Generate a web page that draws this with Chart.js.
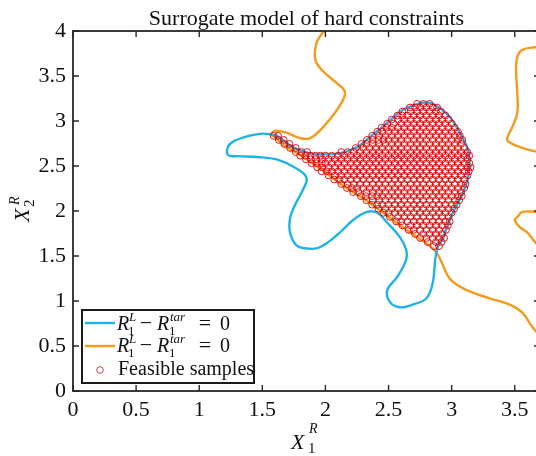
<!DOCTYPE html>
<html>
<head>
<meta charset="utf-8">
<script src="https://cdn.jsdelivr.net/npm/chart.js@4.4.0/dist/chart.umd.min.js"></script>
<style>
html, body { margin: 0; padding: 0; background: #fff; overflow: hidden; }
#wrap { width: 548px; height: 456px; }
</style>
</head>
<body>
<div id="wrap"><canvas id="grafico" width="548" height="456"></canvas></div>
<script>
var titulo = 'Surrogate model of hard constraints';
var xTicks = [0, 0.5, 1, 1.5, 2, 2.5, 3, 3.5];
var yTicks = [0, 0.5, 1, 1.5, 2, 2.5, 3, 3.5, 4];

// blue contour (closed loop)
var blueX = [2.75, 2.61, 2.49, 2.35, 2.25, 2.11, 1.98, 1.88, 1.74, 1.66, 1.60, 1.50, 1.38, 1.28, 1.23, 1.23, 1.31, 1.46,
    1.62, 1.76, 1.85, 1.82, 1.76, 1.72, 1.72, 1.77, 1.88, 1.96, 2.09, 2.22, 2.33, 2.41, 2.49, 2.59, 2.64, 2.64, 2.57,
    2.49, 2.51, 2.59, 2.69, 2.80, 2.85, 2.87, 2.89, 2.93, 2.96, 3.02, 3.09, 3.13, 3.14, 3.13, 3.06, 2.99, 2.91, 2.83, 2.75];
var blueY = [3.20, 3.12, 2.98, 2.82, 2.71, 2.64, 2.63, 2.64, 2.71, 2.79, 2.84, 2.86, 2.83, 2.78, 2.72, 2.62, 2.61, 2.60,
    2.57, 2.48, 2.37, 2.23, 2.07, 1.92, 1.76, 1.62, 1.58, 1.60, 1.73, 1.90, 1.99, 1.98, 1.87, 1.71, 1.57, 1.46, 1.27,
    1.12, 0.99, 0.93, 0.96, 1.03, 1.20, 1.46, 1.60, 1.69, 1.81, 2.01, 2.20, 2.37, 2.53, 2.68, 2.88, 3.04, 3.14, 3.20, 3.20];

// orange contours
var orangeAX = [2.00, 1.93, 1.92, 1.97, 2.09, 2.15, 2.15, 2.09, 1.98, 1.88, 1.80, 1.69, 1.60, 1.57, 1.60, 1.68, 1.78,
    1.97, 2.13, 2.35, 2.61, 2.80, 2.88, 2.93, 2.99, 3.12, 3.30, 3.46, 3.56, 3.64, 3.72];
var orangeAY = [4.02, 3.87, 3.68, 3.57, 3.42, 3.34, 3.27, 3.12, 2.93, 2.81, 2.81, 2.87, 2.89, 2.85, 2.82, 2.72, 2.64,
    2.46, 2.29, 2.09, 1.82, 1.64, 1.54, 1.40, 1.24, 1.12, 1.03, 0.96, 0.87, 0.71, 0.58];
var orangeBX = [3.74, 3.66, 3.56, 3.52, 3.51, 3.52, 3.52, 3.48, 3.44, 3.45, 3.54, 3.67, 3.74];
var orangeBY = [3.83, 3.82, 3.79, 3.71, 3.57, 3.31, 3.09, 2.93, 2.81, 2.77, 2.71, 2.66, 2.64];
var orangeCX = [3.74, 3.67, 3.56, 3.52, 3.50, 3.54, 3.60, 3.67, 3.74];
var orangeCY = [1.99, 1.99, 1.99, 1.93, 1.90, 1.82, 1.76, 1.64, 1.56];

// feasible samples, read row by row
var sampleY = [1.61, 1.655, 1.70, 1.745, 1.79, 1.84, 1.885, 1.935, 1.98, 2.025, 2.07, 2.12, 2.165, 2.21, 2.255, 2.30,
    2.35, 2.395, 2.44, 2.485, 2.53, 2.575, 2.615, 2.655, 2.70, 2.745, 2.79, 2.835, 2.88, 2.925, 2.97, 3.015, 3.06,
    3.105, 3.15, 3.19];
var sampleX = [
    [2.86, 2.90],
    [2.81, 2.875, 2.92],
    [2.75, 2.80, 2.85, 2.90, 2.94],
    [2.71, 2.775, 2.825, 2.875, 2.925],
    [2.66, 2.70, 2.75, 2.80, 2.85, 2.90, 2.955],
    [2.61, 2.675, 2.725, 2.775, 2.825, 2.875, 2.925, 2.97],
    [2.56, 2.60, 2.65, 2.70, 2.75, 2.80, 2.85, 2.90, 2.95, 2.985],
    [2.51, 2.575, 2.625, 2.675, 2.725, 2.775, 2.825, 2.875, 2.925, 2.975],
    [2.46, 2.50, 2.55, 2.60, 2.65, 2.70, 2.75, 2.80, 2.85, 2.90, 2.95, 3.00],
    [2.42, 2.475, 2.525, 2.575, 2.625, 2.675, 2.725, 2.775, 2.825, 2.875, 2.925, 2.975, 3.02],
    [2.37, 2.41, 2.45, 2.50, 2.55, 2.60, 2.65, 2.70, 2.75, 2.80, 2.85, 2.90, 2.95, 3.00, 3.04],
    [2.325, 2.375, 2.425, 2.475, 2.525, 2.575, 2.625, 2.675, 2.725, 2.775, 2.825, 2.875, 2.925, 2.975, 3.025, 3.06],
    [2.28, 2.32, 2.37, 2.41, 2.45, 2.50, 2.55, 2.60, 2.65, 2.70, 2.75, 2.80, 2.85, 2.90, 2.95, 3.00, 3.05, 3.08],
    [2.22, 2.26, 2.325, 2.375, 2.425, 2.475, 2.525, 2.575, 2.625, 2.675, 2.725, 2.775, 2.825, 2.875, 2.925, 2.975, 3.025, 3.075],
    [2.17, 2.21, 2.25, 2.30, 2.35, 2.40, 2.45, 2.50, 2.55, 2.60, 2.65, 2.70, 2.75, 2.80, 2.85, 2.90, 2.95, 3.00, 3.05, 3.10],
    [2.125, 2.175, 2.225, 2.275, 2.325, 2.375, 2.425, 2.475, 2.525, 2.575, 2.625, 2.675, 2.725, 2.775, 2.825, 2.875, 2.925, 2.975, 3.025, 3.075, 3.11],
    [2.07, 2.11, 2.15, 2.20, 2.25, 2.30, 2.35, 2.40, 2.45, 2.50, 2.55, 2.60, 2.65, 2.70, 2.75, 2.80, 2.85, 2.90, 2.95, 3.00, 3.05, 3.10],
    [2.025, 2.075, 2.125, 2.175, 2.225, 2.275, 2.325, 2.375, 2.425, 2.475, 2.525, 2.575, 2.625, 2.675, 2.725, 2.775, 2.825, 2.875, 2.925, 2.975, 3.025, 3.075, 3.125],
    [1.97, 2.01, 2.05, 2.10, 2.15, 2.20, 2.25, 2.30, 2.35, 2.40, 2.45, 2.50, 2.55, 2.60, 2.65, 2.70, 2.75, 2.80, 2.85, 2.90, 2.95, 3.00, 3.05, 3.10, 3.135],
    [1.935, 1.975, 2.025, 2.075, 2.125, 2.175, 2.225, 2.275, 2.325, 2.375, 2.425, 2.475, 2.525, 2.575, 2.625, 2.675, 2.725, 2.775, 2.825, 2.875, 2.925, 2.975, 3.025, 3.075, 3.125, 3.15],
    [1.89, 1.93, 1.97, 2.00, 2.05, 2.10, 2.15, 2.20, 2.25, 2.30, 2.35, 2.40, 2.45, 2.50, 2.55, 2.60, 2.65, 2.70, 2.75, 2.80, 2.85, 2.90, 2.95, 3.00, 3.05, 3.10, 3.14],
    [1.845, 1.885, 1.925, 1.975, 2.025, 2.075, 2.125, 2.175, 2.225, 2.275, 2.325, 2.375, 2.425, 2.475, 2.525, 2.575, 2.625, 2.675, 2.725, 2.775, 2.825, 2.875, 2.925, 2.975, 3.025, 3.075, 3.125],
    [1.80, 1.84, 1.88, 1.92, 1.96, 2.00, 2.05, 2.10, 2.15, 2.20, 2.25, 2.30, 2.35, 2.40, 2.45, 2.50, 2.55, 2.60, 2.65, 2.70, 2.75, 2.80, 2.85, 2.90, 2.95, 3.00, 3.05, 3.10, 3.14],
    [1.765, 1.81, 1.855, 2.125, 2.175, 2.225, 2.275, 2.325, 2.375, 2.425, 2.475, 2.525, 2.575, 2.625, 2.675, 2.725, 2.775, 2.825, 2.875, 2.925, 2.975, 3.025, 3.075, 3.125],
    [1.72, 1.765, 2.24, 2.30, 2.35, 2.40, 2.45, 2.50, 2.55, 2.60, 2.65, 2.70, 2.75, 2.80, 2.85, 2.90, 2.95, 3.00, 3.05, 3.10],
    [1.675, 1.715, 2.285, 2.325, 2.375, 2.425, 2.475, 2.525, 2.575, 2.625, 2.675, 2.725, 2.775, 2.825, 2.875, 2.925, 2.975, 3.025, 3.075],
    [1.63, 1.67, 2.33, 2.375, 2.42, 2.46, 2.50, 2.55, 2.60, 2.65, 2.70, 2.75, 2.80, 2.85, 2.90, 2.95, 3.00, 3.05, 3.085],
    [1.59, 1.625, 2.37, 2.425, 2.475, 2.525, 2.575, 2.625, 2.675, 2.725, 2.775, 2.825, 2.875, 2.925, 2.975, 3.025, 3.065],
    [2.41, 2.45, 2.50, 2.55, 2.60, 2.65, 2.70, 2.75, 2.80, 2.85, 2.90, 2.95, 3.00, 3.05],
    [2.445, 2.485, 2.525, 2.575, 2.625, 2.675, 2.725, 2.775, 2.825, 2.875, 2.925, 2.975, 3.025],
    [2.49, 2.54, 2.60, 2.65, 2.70, 2.75, 2.80, 2.85, 2.90, 2.95, 3.00],
    [2.525, 2.575, 2.625, 2.675, 2.725, 2.775, 2.825, 2.875, 2.925, 2.975],
    [2.57, 2.61, 2.65, 2.70, 2.75, 2.80, 2.85, 2.90, 2.95],
    [2.61, 2.675, 2.725, 2.775, 2.825, 2.875, 2.915],
    [2.67, 2.71, 2.75, 2.80, 2.85, 2.885],
    [2.725, 2.775, 2.825]
];

function juntar(xs, ys) {
    return xs.map(function(x, i) { return { x: x, y: ys[i] }; });
}

var amostras = [];
sampleY.forEach(function(y, i) {
    sampleX[i].forEach(function(x) { amostras.push({ x: x, y: y }); });
});

var fonte = '"Liberation Serif", "Times New Roman", serif';
var azul = '#1fb2e8';
var laranja = '#f29b1c';
var vermelho = 'rgba(222, 0, 0, 0.9)';

// pieces of text placed one by one (for sub/superscripts)
function escreverMath(ctx, partes) {
    partes.forEach(function(p) {
        ctx.font = (p.italic ? 'italic ' : '') + p.size + 'px ' + fonte;
        ctx.textAlign = p.align || 'left';
        ctx.fillText(p.t, p.x, p.y);
    });
}

function entradaLegenda(ctx, x0, base) {
    escreverMath(ctx, [
        { t: 'R', x: x0, y: base, size: 20, italic: true },
        { t: 'L', x: x0 + 12, y: base - 9, size: 13, italic: true },
        { t: '1', x: x0 + 11, y: base + 5, size: 13 },
        { t: '\u2212', x: x0 + 29, y: base, size: 22, align: 'center' },
        { t: 'R', x: x0 + 40, y: base, size: 20, italic: true },
        { t: 'tar', x: x0 + 53, y: base - 9, size: 13, italic: true },
        { t: '1', x: x0 + 52, y: base + 5, size: 13 },
        { t: '=', x: x0 + 88, y: base, size: 22, align: 'center' },
        { t: '0', x: x0 + 103, y: base, size: 20 }
    ]);
}

var moldura = {
    id: 'moldura',
    afterDraw: function(chart) {
        var ctx = chart.ctx;
        var a = chart.chartArea;
        var sx = chart.scales.x, sy = chart.scales.y;
        ctx.save();
        ctx.strokeStyle = '#262626';
        ctx.lineWidth = 1.8;
        ctx.strokeRect(a.left, a.top, a.right - a.left, a.bottom - a.top);
        ctx.lineWidth = 1.4;
        ctx.beginPath();
        xTicks.forEach(function(v) {
            var px = sx.getPixelForValue(v);
            ctx.moveTo(px, a.bottom); ctx.lineTo(px, a.bottom - 6);
            ctx.moveTo(px, a.top); ctx.lineTo(px, a.top + 6);
        });
        yTicks.forEach(function(v) {
            var py = sy.getPixelForValue(v);
            ctx.moveTo(a.left, py); ctx.lineTo(a.left + 6, py);
            ctx.moveTo(a.right, py); ctx.lineTo(a.right - 6, py);
        });
        ctx.stroke();

        // title
        ctx.fillStyle = '#111';
        ctx.font = '22px ' + fonte;
        ctx.textAlign = 'center';
        ctx.textBaseline = 'alphabetic';
        ctx.fillText(titulo, (a.left + a.right) / 2, 25);

        // x label
        escreverMath(ctx, [
            { t: 'X', x: 291, y: 449, size: 22, italic: true },
            { t: 'R', x: 309, y: 433, size: 14, italic: true },
            { t: '1', x: 308, y: 453, size: 15 }
        ]);

        // y label
        ctx.save();
        ctx.translate(29, 222);
        ctx.rotate(-Math.PI / 2);
        escreverMath(ctx, [
            { t: 'X', x: 0, y: 0, size: 22, italic: true },
            { t: 'R', x: 17, y: -10, size: 14, italic: true },
            { t: '2', x: 15, y: 5, size: 15 }
        ]);
        ctx.restore();

        // legend
        ctx.fillStyle = '#fff';
        ctx.fillRect(82, 310, 172, 73);
        ctx.strokeStyle = '#1a1a1a';
        ctx.lineWidth = 2;
        ctx.strokeRect(82, 310, 172, 73);
        ctx.lineWidth = 2.4;
        ctx.strokeStyle = azul;
        ctx.beginPath(); ctx.moveTo(85, 323); ctx.lineTo(115, 323); ctx.stroke();
        ctx.strokeStyle = laranja;
        ctx.beginPath(); ctx.moveTo(85, 346); ctx.lineTo(115, 346); ctx.stroke();
        ctx.strokeStyle = '#c03030';
        ctx.lineWidth = 0.9;
        ctx.beginPath(); ctx.arc(100, 370, 3.3, 0, Math.PI * 2); ctx.stroke();
        ctx.fillStyle = '#111';
        entradaLegenda(ctx, 117, 330);
        entradaLegenda(ctx, 117, 352);
        ctx.font = '20px ' + fonte;
        ctx.textAlign = 'left';
        ctx.fillText('Feasible samples', 118, 375);
        ctx.restore();
    }
};

Chart.defaults.font.family = fonte;

new Chart(document.getElementById('grafico').getContext('2d'), {
    type: 'scatter',
    data: {
        datasets: [
            {
                label: 'Feasible samples',
                data: amostras,
                order: 0,
                pointStyle: 'circle',
                pointRadius: 3.4,
                pointBorderWidth: 1.0,
                borderColor: vermelho,
                backgroundColor: 'rgba(0,0,0,0)'
            },
            {
                label: 'blue',
                data: juntar(blueX, blueY),
                order: 1,
                showLine: true,
                borderColor: azul,
                borderWidth: 2.4,
                pointRadius: 0,
                tension: 0.4
            },
            {
                label: 'orangeA',
                data: juntar(orangeAX, orangeAY),
                order: 1,
                showLine: true,
                borderColor: laranja,
                borderWidth: 2.4,
                pointRadius: 0,
                tension: 0.4
            },
            {
                label: 'orangeB',
                data: juntar(orangeBX, orangeBY),
                order: 1,
                showLine: true,
                borderColor: laranja,
                borderWidth: 2.4,
                pointRadius: 0,
                tension: 0.4
            },
            {
                label: 'orangeC',
                data: juntar(orangeCX, orangeCY),
                order: 1,
                showLine: true,
                borderColor: laranja,
                borderWidth: 2.4,
                pointRadius: 0,
                tension: 0.4
            }
        ]
    },
    options: {
        responsive: false,
        animation: false,
        layout: { padding: { top: 31, right: 8, left: 0, bottom: 0 } },
        plugins: {
            legend: { display: false },
            tooltip: { enabled: false }
        },
        scales: {
            x: {
                type: 'linear',
                min: 0,
                max: 3.7,
                grid: { display: false, drawTicks: false },
                border: { display: false },
                afterBuildTicks: function(scale) { scale.ticks = xTicks.map(function(v) { return { value: v }; }); },
                afterFit: function(scale) { scale.height = 65; },
                ticks: {
                    font: { size: 22 }, color: '#111', padding: 6, maxRotation: 0, autoSkip: false,
                    callback: function(v) { return String(v); }
                }
            },
            y: {
                type: 'linear',
                min: 0,
                max: 4,
                grid: { display: false, drawTicks: false },
                border: { display: false },
                afterBuildTicks: function(scale) { scale.ticks = yTicks.map(function(v) { return { value: v }; }); },
                afterFit: function(scale) { scale.width = 73; },
                ticks: {
                    font: { size: 22 }, color: '#111', padding: 7, autoSkip: false,
                    callback: function(v) { return String(v); }
                }
            }
        }
    },
    plugins: [moldura]
});
</script>
</body>
</html>
